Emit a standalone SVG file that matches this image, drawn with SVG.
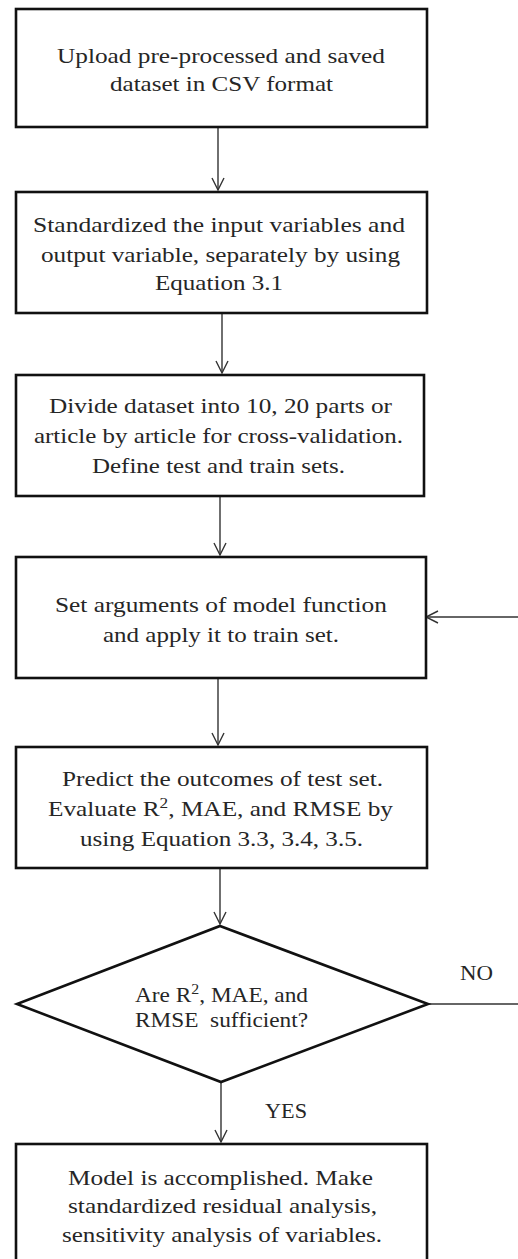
<svg xmlns="http://www.w3.org/2000/svg" width="518" height="1259" viewBox="0 0 518 1259">
  <style>
    .box { fill: #ffffff; stroke: #111111; stroke-width: 2.6; }
    .edge { fill: none; stroke: #333333; stroke-width: 1.4; }
    .label { font-family: "Liberation Serif", "DejaVu Serif", serif; font-size: 22px; fill: #262626; }
    .sup { font-size: 15px; }
  </style>
  <defs>
    <marker id="vhead" markerUnits="userSpaceOnUse" markerWidth="16" markerHeight="16" viewBox="-14 -8 16 16" refX="0" refY="0" orient="auto" overflow="visible">
      <path d="M-12,-6 L0,0 L-12,6" fill="none" stroke="#333333" stroke-width="1.4"/>
    </marker>
  </defs>
  <rect width="518" height="1259" fill="#ffffff"/>

  <!-- connectors -->
  <g id="connectors">
    <line class="edge" x1="218" y1="128" x2="218" y2="190" marker-end="url(#vhead)"/>
    <line class="edge" x1="222" y1="314" x2="222" y2="373" marker-end="url(#vhead)"/>
    <line class="edge" x1="220" y1="497" x2="220" y2="555" marker-end="url(#vhead)"/>
    <line class="edge" x1="218" y1="679" x2="218" y2="745" marker-end="url(#vhead)"/>
    <line class="edge" x1="220" y1="869" x2="220" y2="924" marker-end="url(#vhead)"/>
    <line class="edge" x1="221" y1="1083" x2="221" y2="1142" marker-end="url(#vhead)"/>
    <line class="edge" x1="428" y1="1004" x2="518" y2="1004"/>
    <line class="edge" x1="518" y1="617" x2="426" y2="617" marker-end="url(#vhead)"/>
    <text class="label" x="460" y="980" textLength="33" lengthAdjust="spacingAndGlyphs">NO</text>
    <text class="label" x="265" y="1118" textLength="42" lengthAdjust="spacingAndGlyphs">YES</text>
  </g>

  <!-- process steps -->
  <g id="upload">
    <rect class="box" x="16" y="9" width="411" height="118"/>
    <text class="label" x="57" y="63" textLength="328" lengthAdjust="spacingAndGlyphs">Upload pre-processed and saved</text>
    <text class="label" x="110" y="91" textLength="223" lengthAdjust="spacingAndGlyphs">dataset in CSV format</text>
  </g>

  <g id="standardize">
    <rect class="box" x="16" y="192" width="411" height="121"/>
    <text class="label" x="33" y="232" textLength="372" lengthAdjust="spacingAndGlyphs">Standardized the input variables and</text>
    <text class="label" x="41" y="262" textLength="359" lengthAdjust="spacingAndGlyphs">output variable, separately by using</text>
    <text class="label" x="155" y="290" textLength="128" lengthAdjust="spacingAndGlyphs">Equation 3.1</text>
  </g>

  <g id="divide">
    <rect class="box" x="16" y="375" width="408" height="121"/>
    <text class="label" x="49" y="413" textLength="343" lengthAdjust="spacingAndGlyphs">Divide dataset into 10, 20 parts or</text>
    <text class="label" x="34" y="443" textLength="369" lengthAdjust="spacingAndGlyphs">article by article for cross-validation.</text>
    <text class="label" x="92" y="473" textLength="253" lengthAdjust="spacingAndGlyphs">Define test and train sets.</text>
  </g>

  <g id="train">
    <rect class="box" x="16" y="557" width="410" height="121"/>
    <text class="label" x="55" y="612" textLength="332" lengthAdjust="spacingAndGlyphs">Set arguments of model function</text>
    <text class="label" x="103" y="642" textLength="236" lengthAdjust="spacingAndGlyphs">and apply it to train set.</text>
  </g>

  <g id="evaluate">
    <rect class="box" x="16" y="747" width="411" height="121"/>
    <text class="label" x="62" y="786" textLength="321" lengthAdjust="spacingAndGlyphs">Predict the outcomes of test set.</text>
    <text class="label" x="48" y="816" textLength="345" lengthAdjust="spacingAndGlyphs">Evaluate R<tspan class="sup" dy="-8">2</tspan><tspan dy="8">, MAE, and RMSE by</tspan></text>
    <text class="label" x="80" y="846" textLength="283" lengthAdjust="spacingAndGlyphs">using Equation 3.3, 3.4, 3.5.</text>
  </g>

  <!-- decision -->
  <g id="check">
    <polygon class="box" points="220,926 428,1004 221,1082 17,1004"/>
    <text class="label" x="135" y="1002" textLength="173" lengthAdjust="spacingAndGlyphs">Are R<tspan class="sup" dy="-8">2</tspan><tspan dy="8">, MAE, and</tspan></text>
    <text class="label" x="135" y="1027" xml:space="preserve" textLength="173" lengthAdjust="spacingAndGlyphs">RMSE  sufficient?</text>
  </g>

  <g id="accomplished">
    <rect class="box" x="16" y="1144" width="411" height="130"/>
    <text class="label" x="68" y="1185" textLength="305" lengthAdjust="spacingAndGlyphs">Model is accomplished. Make</text>
    <text class="label" x="68" y="1213" textLength="309" lengthAdjust="spacingAndGlyphs">standardized residual analysis,</text>
    <text class="label" x="62" y="1242" textLength="320" lengthAdjust="spacingAndGlyphs">sensitivity analysis of variables.</text>
  </g>
</svg>
